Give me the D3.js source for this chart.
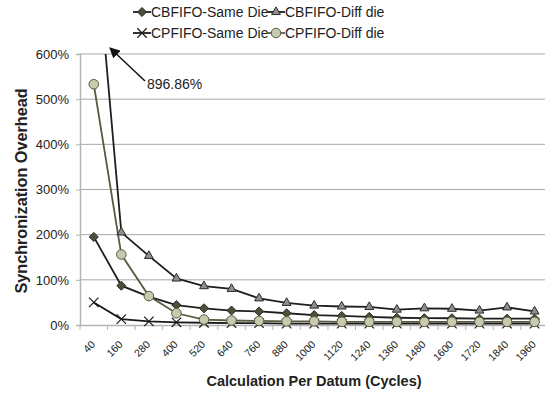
<!DOCTYPE html>
<html><head><meta charset="utf-8">
<script src="https://cdn.jsdelivr.net/npm/d3@7"></script>
<style>body{margin:0;background:#fff}svg{font-family:"Liberation Sans",Arial,sans-serif}</style>
</head><body><svg id="c" width="545" height="394"></svg>
<script>
const categories = ["40","160","280","400","520","640","760","880","1000","1120","1240","1360","1480","1600","1720","1840","1960"];
const cbSame = [195, 87, 63, 44, 37, 32, 30, 26, 22, 20, 18, 16, 15, 15, 14, 14, 14];
const cbDiff = [896.86, 205, 153, 103, 86, 80, 59, 49, 43, 41, 40, 34, 37, 36, 32, 39, 30];
const cpSame = [50, 13, 8, 6, 5, 4, 4, 3, 3, 3, 3, 3, 3, 3, 3, 3, 3];
const cpDiff = [533, 156, 64, 26, 12, 10, 9, 8, 8, 7, 7, 7, 7, 7, 7, 7, 7];
const yTicks = [0, 100, 200, 300, 400, 500, 600];
const seriesNames = ["CBFIFO-Same Die", "CBFIFO-Diff die", "CPFIFO-Same Die", "CPFIFO-Diff die"];
const annotationText = "896.86%";

(function () {
const svg = d3.select("#c");
const pLeft = 80, pTop = 54, pBottom = 325, bandW = 27.55;
const x = d3.scaleBand().domain(categories).range([pLeft, pLeft + bandW * categories.length]).padding(0);
const y = d3.scaleLinear().domain([0, 600]).range([pBottom, pTop]);

svg.append("defs").append("clipPath").attr("id", "clip")
  .append("rect").attr("x", pLeft).attr("y", pTop).attr("width", 545).attr("height", pBottom - pTop + 10);

// gridlines
svg.append("g").selectAll("line").data(yTicks.filter(d => d > 0)).join("line")
  .attr("x1", pLeft).attr("x2", 545).attr("y1", d => y(d)).attr("y2", d => y(d))
  .attr("stroke", "#a8a8a8").attr("stroke-width", 1);

// y axis
const ya = svg.append("g").attr("transform", `translate(${pLeft},0)`)
  .call(d3.axisLeft(y).tickValues(yTicks).tickFormat(d => d + "%").tickSize(4).tickPadding(7));
ya.select(".domain").attr("stroke", "#b4b4b4").attr("stroke-width", 1.5);
ya.selectAll(".tick line").attr("stroke", "#b4b4b4").attr("stroke-width", 1);
ya.selectAll("text").attr("font-size", 13).attr("fill", "#222").attr("font-family", "Liberation Sans, Arial, sans-serif");

// x axis
const xa = svg.append("g").attr("transform", `translate(0,${pBottom})`)
  .call(d3.axisBottom(x).tickSize(0).tickFormat(d => d));
xa.select(".domain").attr("stroke", "#b4b4b4").attr("stroke-width", 1.5);
xa.selectAll(".tick text").attr("font-size", 10.5).attr("fill", "#222")
  .attr("font-family", "Liberation Sans, Arial, sans-serif")
  .attr("text-anchor", "end")
  .attr("transform", "translate(2,20) rotate(-45)").attr("dy", 0).attr("y", 0).attr("x", 0);
svg.append("g").selectAll("line").data(categories.concat(["__end"])).join("line")
  .attr("x1", (d, i) => pLeft + i * x.bandwidth()).attr("x2", (d, i) => pLeft + i * x.bandwidth())
  .attr("y1", pBottom).attr("y2", pBottom + 5).attr("stroke", "#b4b4b4").attr("stroke-width", 1);

// series
const series = [
  {name: seriesNames[0], vals: cbSame, line: "#1e1e1e", marker: "diamond", fill: "#4e4e3a", stroke: "#2a2a20"},
  {name: seriesNames[1], vals: cbDiff, line: "#1e1e1e", marker: "triangle", fill: "#8e8e8e", stroke: "#2a2a2a"},
  {name: seriesNames[2], vals: cpSame, line: "#1a1a1a", marker: "x", fill: "none", stroke: "#1a1a1a"},
  {name: seriesNames[3], vals: cpDiff, line: "#5a5a44", marker: "circle", fill: "#c9c9ad", stroke: "#5a5a44"}
];
const cx = c => x(c) + x.bandwidth() / 2;
function drawMarker(g, type, px, py, s) {
  if (type === "diamond") {
    g.append("path").attr("d", d3.symbol(d3.symbolDiamond2, 52)()).attr("transform", `translate(${px},${py})`)
      .attr("fill", s.fill).attr("stroke", s.stroke).attr("stroke-width", 1);
  } else if (type === "triangle") {
    g.append("path").attr("d", d3.symbol(d3.symbolTriangle2, 56)()).attr("transform", `translate(${px},${py})`)
      .attr("fill", s.fill).attr("stroke", s.stroke).attr("stroke-width", 1);
  } else if (type === "circle") {
    g.append("circle").attr("cx", px).attr("cy", py).attr("r", 4.8)
      .attr("fill", s.fill).attr("stroke", s.stroke).attr("stroke-width", 1);
  } else if (type === "x") {
    g.append("path").attr("d", d3.symbol(d3.symbolX, 60)()).attr("transform", `translate(${px},${py})`)
      .attr("fill", "none").attr("stroke", s.stroke).attr("stroke-width", 1.2);
  }
}
const lineGen = d3.line().x((d, i) => cx(categories[i])).y(d => y(d));
const plot = svg.append("g").attr("clip-path", "url(#clip)");
series.forEach(s => {
  plot.append("path").datum(s.vals).attr("d", lineGen).attr("fill", "none")
    .attr("stroke", s.line).attr("stroke-width", 1.8);
});
series.forEach(s => {
  const g = plot.append("g");
  s.vals.forEach((v, i) => { if (v <= 600) drawMarker(g, s.marker, cx(categories[i]), y(v), s); });
});

// annotation
svg.append("defs").append("marker").attr("id", "ah").attr("viewBox", "0 0 10 10")
  .attr("refX", 9).attr("refY", 5).attr("markerWidth", 7).attr("markerHeight", 7)
  .attr("orient", "auto").append("path").attr("d", "M0,0L10,5L0,10Z").attr("fill", "#111");
svg.append("line").attr("x1", 145).attr("y1", 81).attr("x2", 110).attr("y2", 48)
  .attr("stroke", "#111").attr("stroke-width", 1.5).attr("marker-end", "url(#ah)");
svg.append("text").attr("x", 147).attr("y", 89).attr("font-size", 14).attr("fill", "#222").text(annotationText);

// legend
const legPos = [[133, 12], [267, 12], [133, 33], [267, 33]];
series.forEach((s, i) => {
  const [lx, ly] = legPos[i];
  const g = svg.append("g");
  g.append("line").attr("x1", lx).attr("x2", lx + 18).attr("y1", ly).attr("y2", ly)
    .attr("stroke", s.line).attr("stroke-width", 1.8);
  drawMarker(g, s.marker, lx + 9, ly, s);
  g.append("text").attr("x", lx + 18).attr("y", ly).attr("dy", "0.35em").attr("font-size", 14)
    .attr("fill", "#222").text(s.name);
});

// axis titles
svg.append("text").attr("x", 314).attr("y", 386).attr("text-anchor", "middle")
  .attr("font-size", 14.5).attr("font-weight", "bold").attr("fill", "#222").text("Calculation Per Datum (Cycles)");
svg.append("text").attr("transform", "translate(27,191) rotate(-90)").attr("text-anchor", "middle")
  .attr("font-size", 16.2).attr("font-weight", "bold").attr("fill", "#222").text("Synchronization Overhead");
})();
</script></body></html>
